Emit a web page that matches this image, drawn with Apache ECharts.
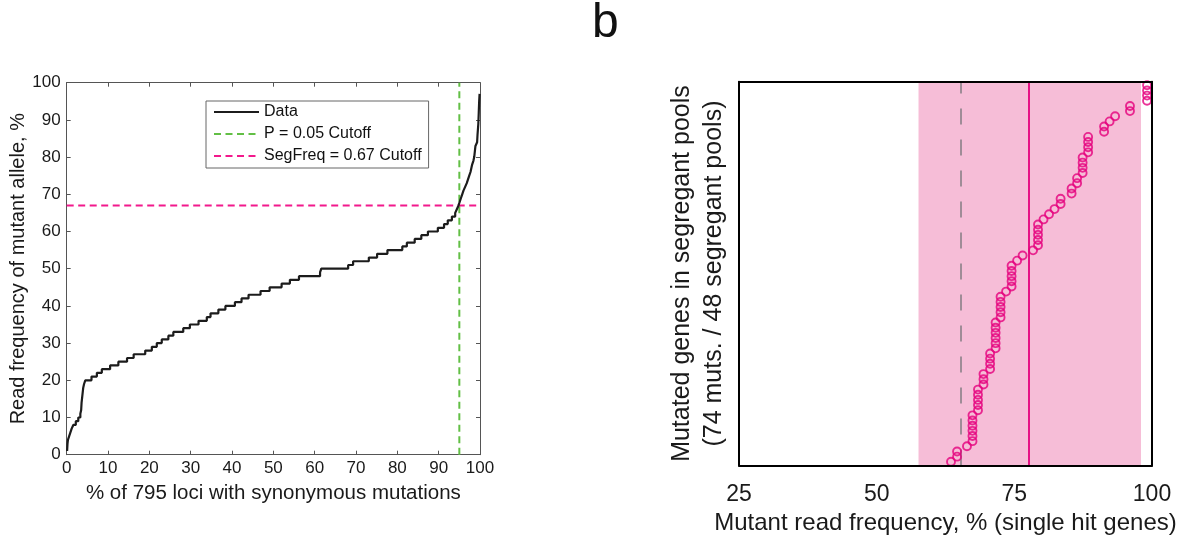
<!DOCTYPE html>
<html><head><meta charset="utf-8">
<script src="https://cdn.jsdelivr.net/npm/echarts@6/dist/echarts.min.js"></script>
<style>html,body{margin:0;padding:0;background:#fff}#c{width:1196px;height:538px}</style>
</head><body><div id="c"></div>
<script>
// ---- Left panel: sorted read frequency (start of each level of the step curve) ----
const lociPct = [0.1,0.2,0.3,0.6,0.9,1.2,1.6,2.2,2.8,3.3,3.5,3.6,3.8,4.0,4.2,4.5,6.0,7.3,8.5,10.5,12.5,14.6,16.2,19.0,20.6,21.8,23.0,24.6,25.8,28.2,29.8,31.9,33.9,34.8,36.7,38.4,40.7,42.3,44.0,46.9,49.1,52.0,54.0,56.2,61.3,61.6,68.1,69.3,73.1,75.1,77.6,81.2,82.3,84.2,85.8,87.4,89.8,91.3,92.2,93.2,94.0,94.4,94.8,95.1,95.4,95.7,96.0,96.4,96.8,97.1,97.4,97.7,97.9,98.1,98.4,98.6,98.8,98.9,99.3,99.4,99.6,99.7,99.8,99.9,100];
const readFreq = [1,3,4,5,6,7,8,9,10,11,12,14,16,18,19,20,21,22,23,24,25,26,27,28,29,30,31,32,33,34,35,36,37,38,39,40,41,42,43,44,45,46,47,48,49,50,51,52,53,54,55,56,57,58,59,60,61,62,63,64,65,66,67,68,69,70,71,72,73,74,75,76,77,78,79,80,82,83,84,86,89,92,95,97,97];
const pCutoffPct = 95;
const segFreqCutoff = 67;
const leftLegend = ['Data', 'P = 0.05 Cutoff', 'SegFreq = 0.67 Cutoff'];

// ---- Right panel: mutant read frequency of 74 single-hit genes (sorted) ----
const mutantFreq = [63.5,64.6,64.6,66.4,
  67.4,67.4,67.4,67.4,67.4,67.4,
  68.4,68.4,68.4,68.4,68.4,
  69.4,69.4,69.4,
  70.6,70.6,70.6,70.6,
  71.6,71.6,71.6,71.6,71.6,71.6,
  72.5,72.5,72.5,72.5,72.5,
  73.5,
  74.5,74.5,74.5,74.5,74.5,
  75.5,76.5,78.4,
  79.3,79.3,79.3,79.3,79.3,
  80.3,81.3,82.3,83.4,83.4,85.4,85.4,86.4,86.4,
  87.4,87.4,87.4,87.4,
  88.4,88.4,88.4,88.4,
  91.3,91.3,92.3,93.3,96.0,96.0,
  99.1,99.1,99.1,99.1];
const bandRange = [57.6, 98.0];
const dashedCutoff = 65.2;
const solidCutoff = 77.7;

const FONT = 'Liberation Sans, Arial, Helvetica, sans-serif';
const chart = echarts.init(document.getElementById('c'), null, {renderer: 'canvas'});

const leftAxisCommon = {
  type: 'value', min: 0, max: 100, interval: 10,
  axisLine: {show: true, onZero: false, lineStyle: {color: '#555', width: 1}},
  axisTick: {show: true, inside: true, length: 4, lineStyle: {color: '#555'}},
  splitLine: {show: false}
};
const rightAxisCommon = {
  axisLine: {show: true, onZero: false, lineStyle: {color: '#000', width: 2}},
  axisTick: {show: false}, splitLine: {show: false}, z: 10
};

chart.setOption({
  animation: false,
  textStyle: {fontFamily: FONT},
  title: {text: 'b', left: 592, top: 0, padding: 0,
    textStyle: {fontSize: 48, fontWeight: 'normal', color: '#111', fontFamily: FONT}},
  legend: {
    data: leftLegend, orient: 'vertical', left: 206, top: 101,
    itemWidth: 45, itemHeight: 10, itemGap: 6,
    padding: [3, 7, 4, 7], backgroundColor: '#fff', borderColor: '#666', borderWidth: 1,
    itemStyle: {color: 'rgba(0,0,0,0)', borderWidth: 0, opacity: 0},
    textStyle: {fontSize: 16, color: '#111', fontFamily: FONT}
  },
  grid: [
    {left: 66.7, top: 82.7, width: 413.3, height: 372, containLabel: false, outerBoundsMode: 'none'},
    {left: 739, top: 81.7, width: 413, height: 383.7, containLabel: false, outerBoundsMode: 'none'}
  ],
  xAxis: [
    Object.assign({}, leftAxisCommon, {gridIndex: 0, position: 'bottom',
      axisLabel: {fontSize: 17, color: '#1a1a1a', margin: 5, fontFamily: FONT},
      name: '% of 795 loci with synonymous mutations', nameLocation: 'middle', nameGap: 28,
      nameTextStyle: {fontSize: 20.5, color: '#1a1a1a', fontFamily: FONT}}),
    Object.assign({}, leftAxisCommon, {gridIndex: 0, position: 'top', axisLabel: {show: false}}),
    Object.assign({}, rightAxisCommon, {type: 'value', gridIndex: 1, position: 'bottom', min: 25, max: 100, interval: 25,
      axisLabel: {fontSize: 23, color: '#1a1a1a', margin: 18, fontFamily: FONT},
      name: 'Mutant read frequency, % (single hit genes)', nameLocation: 'middle', nameGap: 39,
      nameTextStyle: {fontSize: 24, color: '#1a1a1a', fontFamily: FONT}}),
    Object.assign({}, rightAxisCommon, {type: 'value', gridIndex: 1, position: 'top', min: 25, max: 100, interval: 25,
      axisLabel: {show: false}})
  ],
  yAxis: [
    Object.assign({}, leftAxisCommon, {gridIndex: 0, position: 'left',
      axisLabel: {fontSize: 17, color: '#1a1a1a', margin: 6, fontFamily: FONT},
      name: 'Read frequency of mutant allele, %', nameLocation: 'middle', nameGap: 38,
      nameTextStyle: {fontSize: 20, color: '#1a1a1a', fontFamily: FONT}}),
    Object.assign({}, leftAxisCommon, {gridIndex: 0, position: 'right', axisLabel: {show: false}}),
    Object.assign({}, rightAxisCommon, {type: 'value', gridIndex: 1, position: 'left', min: 0.3, max: 74.7,
      axisLabel: {show: false},
      name: 'Mutated genes in segregant pools\n(74 muts. / 48 segregant pools)', nameLocation: 'middle', nameGap: 9,
      nameTextStyle: {fontSize: 25, lineHeight: 32, color: '#1a1a1a', fontFamily: FONT}}),
    Object.assign({}, rightAxisCommon, {type: 'value', gridIndex: 1, position: 'right', min: 0.3, max: 74.7,
      axisLabel: {show: false}})
  ],
  series: [
    {name: 'Data', type: 'line', xAxisIndex: 0, yAxisIndex: 0, step: 'end', symbol: 'none',
      data: lociPct.map((x, i) => [x, readFreq[i]]),
      lineStyle: {color: '#1c1c1c', width: 2.2}, itemStyle: {color: '#1c1c1c'}, z: 4},
    {name: 'P = 0.05 Cutoff', type: 'line', xAxisIndex: 0, yAxisIndex: 0, symbol: 'none',
      data: [[pCutoffPct, 0], [pCutoffPct, 100]],
      lineStyle: {color: '#62bf45', width: 2, type: [7, 4.5]}, itemStyle: {color: '#62bf45'}, z: 3},
    {name: 'SegFreq = 0.67 Cutoff', type: 'line', xAxisIndex: 0, yAxisIndex: 0, symbol: 'none',
      data: [[0, segFreqCutoff], [100, segFreqCutoff]],
      lineStyle: {color: '#f2198c', width: 2, type: [7, 4.5]}, itemStyle: {color: '#f2198c'}, z: 3},
    {name: 'mutants', type: 'scatter', xAxisIndex: 2, yAxisIndex: 2,
      data: mutantFreq.map((v, i) => [v, i + 1]),
      symbol: 'circle', symbolSize: 8,
      itemStyle: {color: 'rgba(0,0,0,0)', borderColor: '#e5007d', borderWidth: 1.9},
      z: 5,
      markArea: {silent: true, z: 1, itemStyle: {color: '#f6bdd7'},
        data: [[{xAxis: bandRange[0]}, {xAxis: bandRange[1]}]]},
      markLine: {silent: true, z: 2, symbol: ['none', 'none'], label: {show: false}, animation: false,
        data: [
          {xAxis: dashedCutoff, lineStyle: {color: '#8a8088', width: 1.6, type: [16, 15]}},
          {xAxis: solidCutoff, lineStyle: {color: '#e5007d', width: 1.8, type: 'solid'}}
        ]}
    }
  ]
});
</script></body></html>
